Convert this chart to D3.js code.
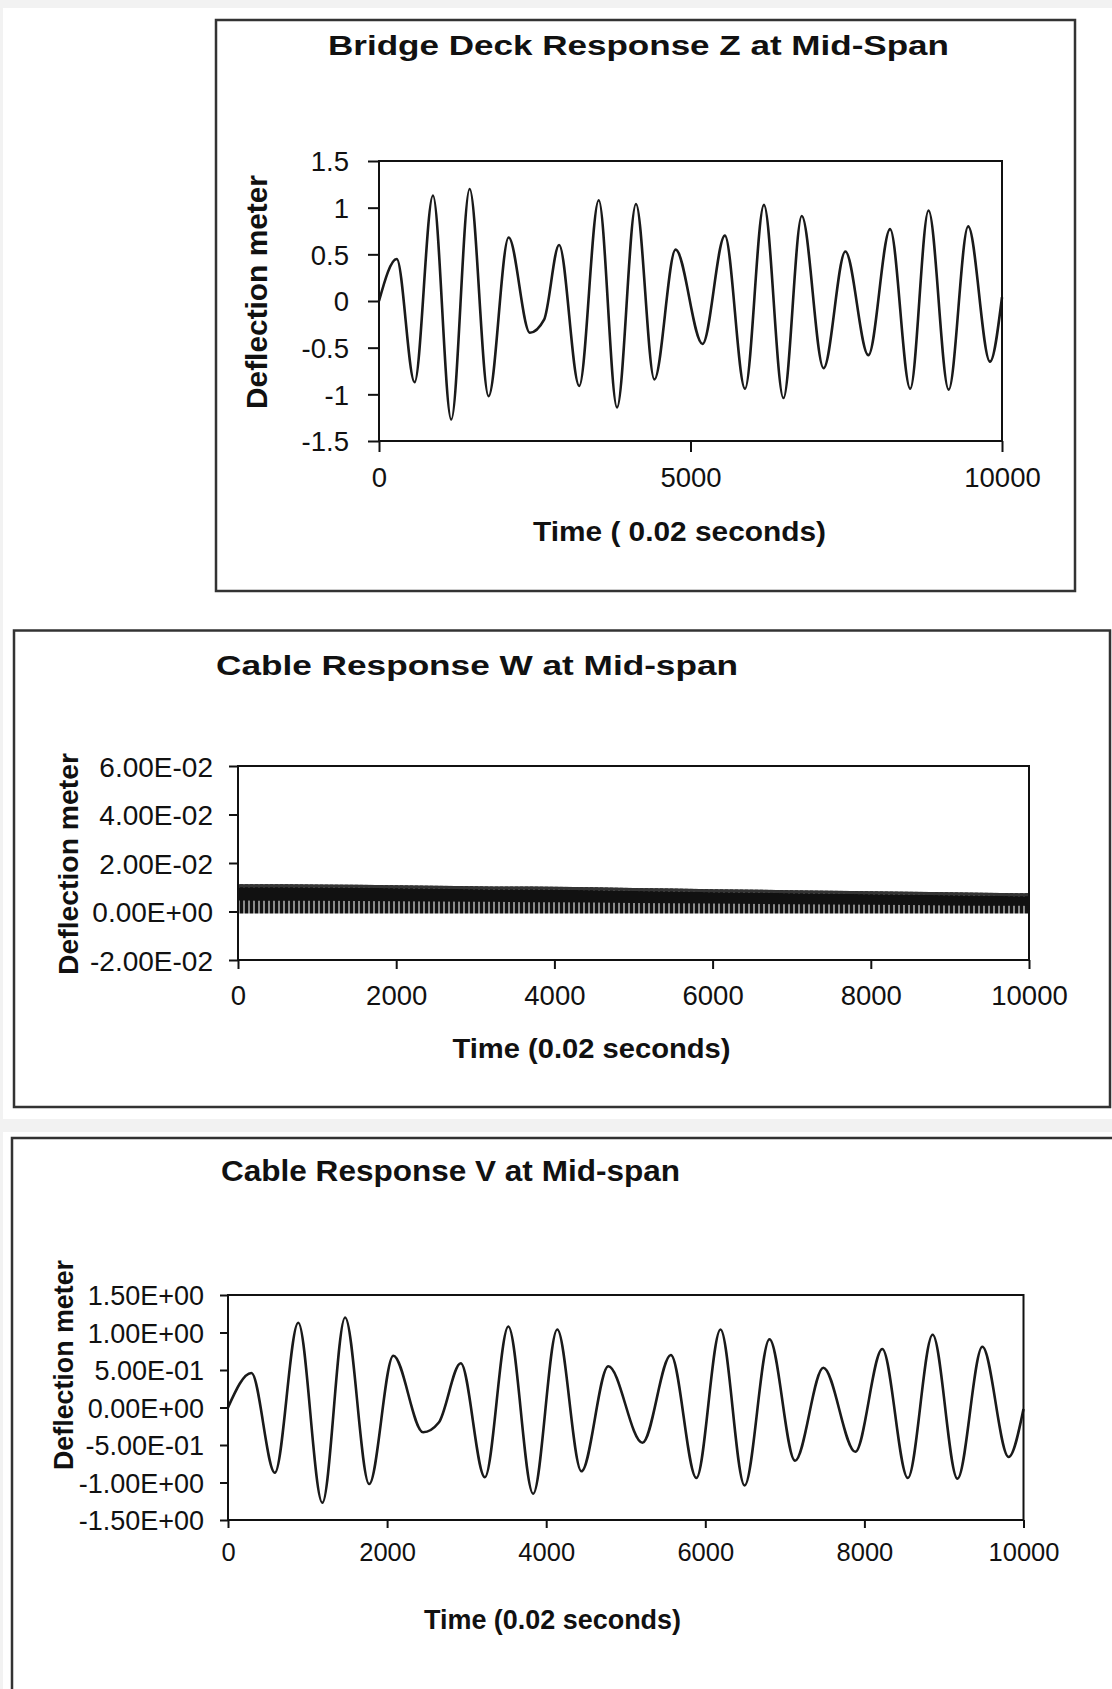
<!DOCTYPE html>
<html>
<head>
<meta charset="utf-8">
<script src="https://cdn.jsdelivr.net/npm/d3@7"></script>
<style>
  html, body { margin: 0; padding: 0; background: #ffffff; }
  svg { display: block; }
  text { font-family: "Liberation Sans", Arial, Helvetica, sans-serif; fill: #111; }
</style>
</head>
<body>
<svg id="chart" width="1112" height="1689"></svg>
<script>
// ---------------- DATA ----------------
// Bridge Deck Response Z at Mid-Span : extrema of the response (time step, metres)
const zTime  = [0, 285, 571, 866, 1160, 1455, 1759, 2081, 2422, 2650, 2891, 3214, 3527, 3821, 4125, 4420, 4761, 5193, 5552, 5875, 6179, 6492, 6786, 7136, 7486, 7855, 8204, 8527, 8821, 9144, 9457, 9807, 10000];
const zValue = [0, 0.45, -0.87, 1.13, -1.27, 1.2, -1.02, 0.68, -0.34, -0.2, 0.6, -0.91, 1.08, -1.14, 1.04, -0.84, 0.55, -0.46, 0.7, -0.94, 1.03, -1.04, 0.91, -0.72, 0.53, -0.58, 0.77, -0.94, 0.97, -0.95, 0.8, -0.65, 0.04];

// Cable Response W at Mid-span : dense oscillation, described by its envelope
const wTime  = [0, 1000, 2000, 3000, 4000, 5000, 6000, 7000, 8000, 9000, 10000];
const wUpper = [0.0112, 0.0111, 0.0108, 0.0104, 0.0102, 0.0097, 0.0092, 0.0088, 0.0084, 0.0079, 0.0075];
const wCore  = [0.0045, 0.0044, 0.0042, 0.0040, 0.0038, 0.0035, 0.0033, 0.0030, 0.0028, 0.0025, 0.0023];
const wLower = [-0.0008, -0.0008, -0.0008, -0.0008, -0.0008, -0.0008, -0.0008, -0.0008, -0.0008, -0.0008, -0.0008];

// Cable Response V at Mid-span : extrema of the response
const vTime  = [0, 294, 589, 883, 1186, 1472, 1775, 2078, 2453, 2650, 2926, 3229, 3524, 3836, 4139, 4443, 4781, 5210, 5567, 5888, 6191, 6494, 6807, 7128, 7484, 7886, 8225, 8546, 8858, 9170, 9483, 9813, 10000];
const vValue = [0, 0.46, -0.87, 1.13, -1.27, 1.2, -1.02, 0.69, -0.33, -0.2, 0.59, -0.93, 1.08, -1.15, 1.04, -0.85, 0.55, -0.47, 0.7, -0.94, 1.04, -1.04, 0.91, -0.71, 0.53, -0.59, 0.78, -0.94, 0.97, -0.95, 0.81, -0.66, -0.02];

// Tick values
const zXTicks = [0, 5000, 10000];
const zYTicks = [-1.5, -1, -0.5, 0, 0.5, 1, 1.5];
const wXTicks = [0, 2000, 4000, 6000, 8000, 10000];
const wYTicks = [-0.02, 0, 0.02, 0.04, 0.06];
const vXTicks = [0, 2000, 4000, 6000, 8000, 10000];
const vYTicks = [-1.5, -1, -0.5, 0, 0.5, 1, 1.5];

// Texts
const titles  = ["Bridge Deck Response Z at Mid-Span", "Cable Response W at Mid-span", "Cable Response V at Mid-span"];
const xTitles = ["Time ( 0.02 seconds)", "Time (0.02 seconds)", "Time (0.02 seconds)"];
const yTitle  = "Deflection meter";

// ---------------- DRAWING ----------------
const svg = d3.select("#chart");

// light grey page strips
svg.append("rect").attr("x", 0).attr("y", 0).attr("width", 1112).attr("height", 8).attr("fill", "#f2f2f2");
svg.append("rect").attr("x", 0).attr("y", 0).attr("width", 3).attr("height", 1689).attr("fill", "#f2f2f2");
svg.append("rect").attr("x", 0).attr("y", 1119).attr("width", 1112).attr("height", 13).attr("fill", "#f2f2f2");

function plain(d) { return String(d).replace("\u2212", "-"); }
function sci(d) {
  const parts = d.toExponential(2).split("e");
  const sign = parts[1][0];
  let e = parts[1].slice(1);
  if (e.length < 2) e = "0" + e;
  return parts[0].toUpperCase() + "E" + sign + e;
}

function drawChart(cfg) {
  const g = svg.append("g");

  // outer frame
  g.append("rect")
    .attr("x", cfg.box[0]).attr("y", cfg.box[1])
    .attr("width", cfg.box[2] - cfg.box[0]).attr("height", cfg.box[3] - cfg.box[1])
    .attr("fill", "#fff").attr("stroke", "#333").attr("stroke-width", 2.5);

  const x = d3.scaleLinear().domain(cfg.xDomain).range([cfg.left, cfg.right]);
  const y = d3.scaleLinear().domain(cfg.yDomain).range([cfg.bottom, cfg.top]);

  // series
  cfg.drawSeries(g, x, y);

  // plot-area border
  g.append("rect")
    .attr("x", cfg.left).attr("y", cfg.top)
    .attr("width", cfg.right - cfg.left).attr("height", cfg.bottom - cfg.top)
    .attr("fill", "none").attr("stroke", "#111").attr("stroke-width", 2);

  // x axis
  const xa = g.append("g").attr("transform", `translate(0,${cfg.bottom})`)
    .call(d3.axisBottom(x).tickValues(cfg.xTicks).tickSize(cfg.tick).tickSizeOuter(0).tickFormat(plain));
  xa.select(".domain").remove();
  xa.selectAll(".tick line").attr("stroke", "#111").attr("stroke-width", 2);
  xa.selectAll(".tick text")
    .attr("y", cfg.xLabOff).attr("dy", null)
    .attr("font-size", cfg.xTickFont).attr("fill", "#111")
    .style("font-family", '"Liberation Sans", Arial, sans-serif');

  // y axis
  const ya = g.append("g").attr("transform", `translate(${cfg.left},0)`)
    .call(d3.axisLeft(y).tickValues(cfg.yTicks).tickSize(cfg.tick).tickSizeOuter(0).tickFormat(cfg.yFormat));
  ya.select(".domain").remove();
  ya.selectAll(".tick line").attr("stroke", "#111").attr("stroke-width", 2);
  ya.selectAll(".tick text")
    .attr("x", -cfg.yLabOff).attr("dy", "0.36em")
    .attr("font-size", cfg.yTickFont).attr("fill", "#111")
    .style("font-family", '"Liberation Sans", Arial, sans-serif');

  // chart title
  g.append("text")
    .attr("x", cfg.titlePos[0]).attr("y", cfg.titlePos[1])
    .attr("text-anchor", "middle").attr("font-weight", "bold")
    .attr("font-size", cfg.titleFont)
    .attr("textLength", cfg.titleLen).attr("lengthAdjust", "spacingAndGlyphs")
    .text(cfg.title);

  // x axis title
  g.append("text")
    .attr("x", cfg.xTitlePos[0]).attr("y", cfg.xTitlePos[1])
    .attr("text-anchor", "middle").attr("font-weight", "bold")
    .attr("font-size", cfg.xTitleFont)
    .attr("textLength", cfg.xTitleLen).attr("lengthAdjust", "spacingAndGlyphs")
    .text(cfg.xTitle);

  // y axis title
  g.append("text")
    .attr("transform", `translate(${cfg.yTitlePos[0]},${cfg.yTitlePos[1]}) rotate(-90)`)
    .attr("text-anchor", "middle").attr("font-weight", "bold")
    .attr("font-size", cfg.yTitleFont)
    .attr("textLength", cfg.yTitleLen).attr("lengthAdjust", "spacingAndGlyphs")
    .text(yTitle);
}

function lineSeries(times, values) {
  return function (g, x, y) {
    const pts = times.map((t, i) => [t, values[i]]);
    g.append("path")
      .datum(pts)
      .attr("fill", "none").attr("stroke", "#1a1a1a").attr("stroke-width", 2.6)
      .attr("stroke-linejoin", "round")
      .attr("d", d3.line().x(d => x(d[0])).y(d => y(d[1])).curve(d3.curveMonotoneX));
  };
}

// pattern for the dense oscillation band
const defs = svg.append("defs");
const pat = defs.append("pattern").attr("id", "osc").attr("patternUnits", "userSpaceOnUse")
  .attr("width", 5).attr("height", 10);
pat.append("rect").attr("width", 5).attr("height", 10).attr("fill", "#8a8a8a");
pat.append("rect").attr("width", 3).attr("height", 10).attr("fill", "#111");

function bandSeries(g, x, y) {
  const idx = wTime.map((t, i) => i);
  g.append("path").datum(idx)
    .attr("fill", "url(#osc)")
    .attr("d", d3.area().x(i => x(wTime[i])).y0(i => y(wLower[i])).y1(i => y(wUpper[i])).curve(d3.curveMonotoneX));
  g.append("path").datum(idx)
    .attr("fill", "#111")
    .attr("d", d3.area().x(i => x(wTime[i])).y0(i => y(wCore[i])).y1(i => y(wUpper[i]) + 3).curve(d3.curveMonotoneX));
  g.append("path").datum(idx)
    .attr("fill", "#333")
    .attr("d", d3.area().x(i => x(wTime[i])).y0(i => y(wUpper[i]) + 3).y1(i => y(wUpper[i])).curve(d3.curveMonotoneX));
}

drawChart({
  box: [216, 20, 1075, 591],
  left: 379, right: 1002, top: 161, bottom: 441,
  xDomain: [0, 10000], yDomain: [-1.5, 1.5],
  xTicks: zXTicks, yTicks: zYTicks, yFormat: plain,
  tick: 11, xLabOff: 46, yLabOff: 30, xTickFont: 27.5, yTickFont: 27.5,
  title: titles[0], titlePos: [638.5, 55], titleFont: 28, titleLen: 621,
  xTitle: xTitles[0], xTitlePos: [679.5, 541], xTitleFont: 28, xTitleLen: 293,
  yTitlePos: [267, 292], yTitleFont: 30, yTitleLen: 234,
  drawSeries: lineSeries(zTime, zValue)
});

drawChart({
  box: [14, 630.5, 1110, 1107],
  left: 238, right: 1029, top: 766, bottom: 960,
  xDomain: [0, 10000], yDomain: [-0.02, 0.06],
  xTicks: wXTicks, yTicks: wYTicks, yFormat: sci,
  tick: 9, xLabOff: 45, yLabOff: 25, xTickFont: 27.5, yTickFont: 28,
  title: titles[1], titlePos: [477, 675], titleFont: 28, titleLen: 522,
  xTitle: xTitles[1], xTitlePos: [591.5, 1058], xTitleFont: 28, xTitleLen: 278,
  yTitlePos: [78, 864], yTitleFont: 28.5, yTitleLen: 222,
  drawSeries: bandSeries
});

drawChart({
  box: [12, 1138, 1130, 1710],
  left: 228, right: 1023.5, top: 1295, bottom: 1520,
  xDomain: [0, 10000], yDomain: [-1.5, 1.5],
  xTicks: vXTicks, yTicks: vYTicks, yFormat: sci,
  tick: 8, xLabOff: 41, yLabOff: 24, xTickFont: 25.5, yTickFont: 27,
  title: titles[2], titlePos: [450.5, 1181], titleFont: 29, titleLen: 459,
  xTitle: xTitles[2], xTitlePos: [552.5, 1629], xTitleFont: 27, xTitleLen: 257,
  yTitlePos: [73, 1365], yTitleFont: 27, yTitleLen: 210,
  drawSeries: lineSeries(vTime, vValue)
});
</script>
</body>
</html>
